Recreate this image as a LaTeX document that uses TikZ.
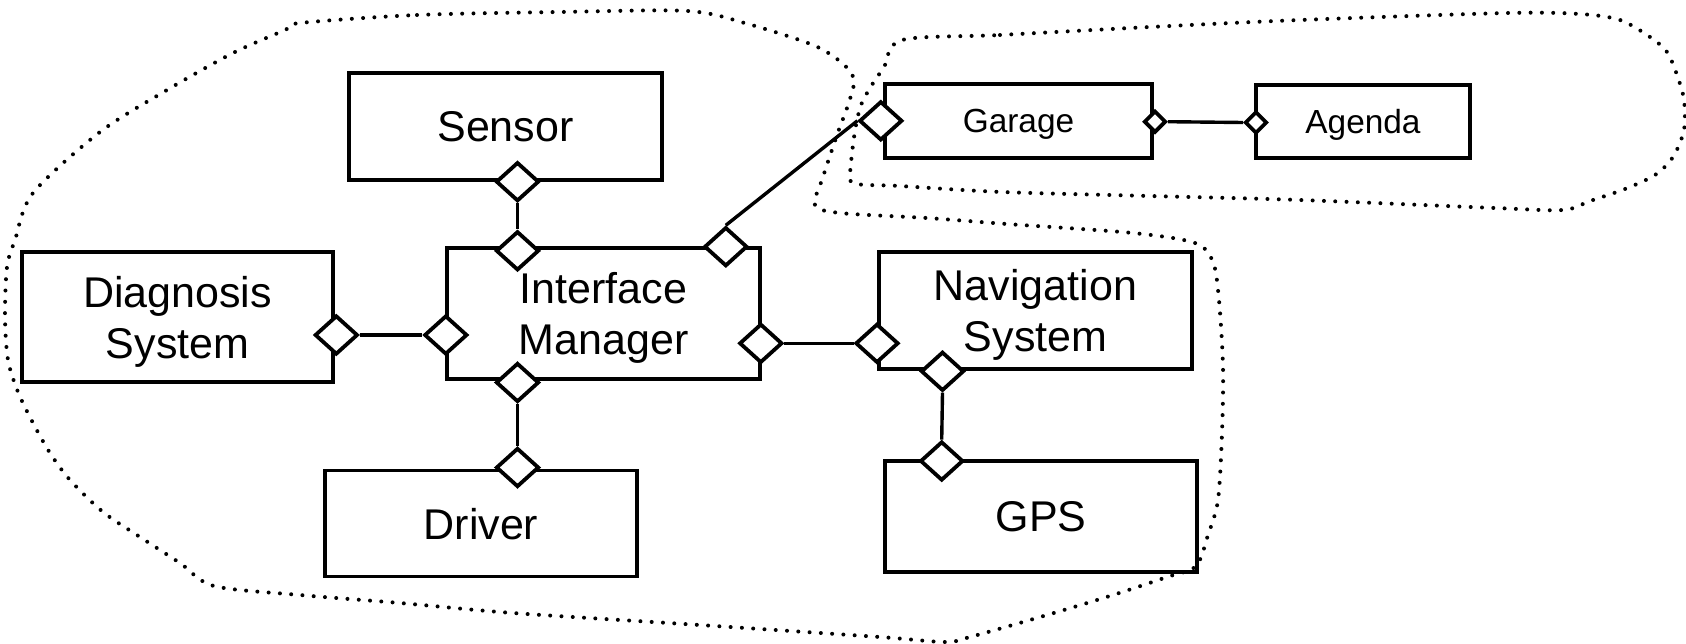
\documentclass[tikz,border=0pt]{standalone}
\usepackage{fontspec}
\setmainfont{Liberation Sans}
\usetikzlibrary{shapes.geometric}
\begin{document}
\begin{tikzpicture}[x=1pt,y=-1pt,
  classbox/.style={draw, line width=3.8pt, rectangle, inner sep=0pt,
    align=center, text depth=0pt, font=\fontsize{43}{51}\selectfont},
  smallbox/.style={classbox, font=\fontsize{33.4}{40}\selectfont},
  agg/.style={diamond, draw, fill=white, line width=3.8pt, inner sep=0pt,
    minimum width=43pt, minimum height=39pt},
  smallagg/.style={agg, minimum width=22pt, minimum height=22pt},
  conn/.style={line width=3.4pt},
  group/.style={line width=4pt, line cap=round, dash pattern=on 0pt off 11.3pt}]
\useasboundingbox (0,0) rectangle (1686,643);

% subsystem boundaries
\draw[group] plot[smooth cycle, tension=0.5] coordinates {
  (300,23) (417,15) (560,12) (688,11) (748,24) (813,45) (842,63) (854,80)
  (848,105) (837,135) (823,177) (815,205) (840,213) (927,218) (1007,224)
  (1133,233) (1195,243) (1213,262) (1219,300) (1223,367) (1222,433)
  (1218,500) (1208,535) (1196,566) (1167,577) (1113,595) (1047,615)
  (970,637) (945,642) (880,637) (700,625) (513,613) (400,603) (300,595)
  (214,586) (180,563) (140,537) (103,512) (70,480) (50,453) (33,423)
  (18,392) (8,360) (5,317) (7,267) (15,240) (33,193) (100,132) (167,90)
  (233,53) (285,30)};
\draw[group] plot[smooth cycle, tension=0.5] coordinates {
  (902,40) (1000,35) (1150,27) (1300,20) (1507,13) (1580,14) (1620,20)
  (1650,37) (1667,52) (1677,75) (1684,100) (1684,130) (1673,157)
  (1655,175) (1625,189) (1590,201) (1563,210) (1495,208) (1300,200)
  (1150,196) (1002,192) (900,186) (853,183) (851,165) (853,145)
  (856,125) (861,105) (870,88) (884,67)};

% classes
\node[classbox, minimum width=313pt, minimum height=107pt] (sensor) at (505.5,126.5) {Sensor};
\node[classbox, minimum width=313pt, minimum height=131pt] (im) at (603.5,313.5) {Interface\\Manager};
\node[classbox, minimum width=311pt, minimum height=130pt] (diag) at (177.5,317) {Diagnosis\\System};
\node[classbox, minimum width=312pt, minimum height=106pt] (driver) at (481,523.5) {Driver};
\node[classbox, minimum width=313pt, minimum height=117pt] (nav) at (1035.5,310.5) {Navigation\\System};
\node[classbox, minimum width=312pt, minimum height=111pt] (gps) at (1041,516.5) {GPS};
\node[smallbox, minimum width=267pt, minimum height=74pt] (garage) at (1018.5,121) {Garage};
\node[smallbox, minimum width=214pt, minimum height=73pt] (agenda) at (1363,121.5) {Agenda};

% aggregation ends
\node[agg] (dS)  at (517.5,181.7) {};
\node[agg] (dIt) at (517.5,250.8) {};
\node[agg] (dIl) at (445.8,335) {};
\node[agg] (dD)  at (336.3,335) {};
\node[agg] (dIb) at (517.5,382.5) {};
\node[agg] (dDr) at (517.5,467.5) {};
\node[agg] (dItr) at (725.8,246.7) {};
\node[agg] (dIr) at (760.8,343.3) {};
\node[agg] (dNl) at (877,343.3) {};
\node[agg] (dNb) at (942.5,371.3) {};
\node[agg] (dGp) at (941.7,461) {};
\node[agg] (dGl) at (880.8,120.8) {};
\node[smallagg] (dGr) at (1155,121.7) {};
\node[smallagg] (dA)  at (1256,122.5) {};

% associations
\draw[conn] (dS.south) -- (dIt.north);
\draw[conn] (dD.east) -- (dIl.west);
\draw[conn] (dIb.south) -- (dDr.north);
\draw[conn] (dIr.east) -- (dNl.west);
\draw[conn] (dNb.south) -- (dGp.north);
\draw[conn] (dItr.north) -- (dGl.west);
\draw[conn] (dGr.east) -- (dA.west);
\end{tikzpicture}
\end{document}
